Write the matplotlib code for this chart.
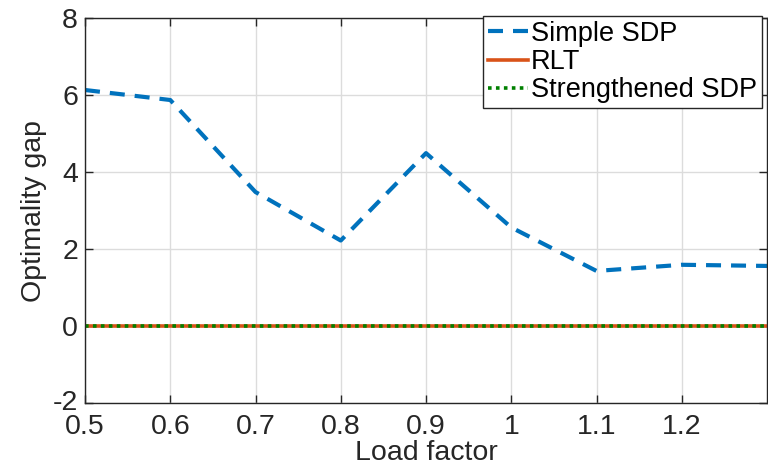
import matplotlib
matplotlib.use("Agg")
import matplotlib.pyplot as plt
from matplotlib.transforms import ScaledTranslation

load_factor = [0.5, 0.6, 0.7, 0.8, 0.9, 1.0, 1.1, 1.2, 1.3]
simple_sdp = [6.13, 5.87, 3.48, 2.22, 4.49, 2.56, 1.43, 1.59, 1.56]
rlt = [0, 0, 0, 0, 0, 0, 0, 0, 0]
strengthened_sdp = [0, 0, 0, 0, 0, 0, 0, 0, 0]
xticks = [0.5, 0.6, 0.7, 0.8, 0.9, 1.0, 1.1, 1.2]
xticklabels = ["0.5", "0.6", "0.7", "0.8", "0.9", "1", "1.1", "1.2"]
yticks = [-2, 0, 2, 4, 6, 8]
yticklabels = ["-2", "0", "2", "4", "6", "8"]

plt.rcParams['font.family'] = ['Liberation Sans', 'DejaVu Sans']

W, H = 768, 469
fig = plt.figure(figsize=(W/100, H/100), dpi=100)
ax = fig.add_axes([85/W, 1-403/H, (767-85)/W, (403-18)/H])

ax.plot(load_factor, simple_sdp, color='#0072BD', linestyle=(0, (3.6, 2.4)), linewidth=3.0, label='Simple SDP')
ax.plot(load_factor, rlt, color='#D95319', linestyle='-', linewidth=2.6, label='RLT')
ax.plot(load_factor, strengthened_sdp, color='#008000', linestyle=(0, (1, 1.2)), linewidth=2.6, label='Strengthened SDP')

ax.set_xlim(0.5, 1.3)
ax.set_ylim(-2, 8)
ax.set_xticks(xticks)
ax.set_xticklabels(xticklabels)
ax.set_yticks(yticks)
ax.set_yticklabels(yticklabels)
ax.grid(True, color='#dcdcdc', linewidth=1.0)
ax.set_axisbelow(True)
for s in ax.spines.values():
    s.set_color('#262626')
    s.set_linewidth(1.0)
ax.tick_params(direction='in', top=True, right=True, length=6, width=1.0,
               colors='#262626', labelsize=20.5)
ax.tick_params(axis='x', pad=8)
ax.tick_params(axis='y', pad=5)
ax.set_xlabel('Load factor', fontsize=20.5, color='#262626', labelpad=0)
ax.set_ylabel('Optimality gap', fontsize=20.5, color='#262626', labelpad=4)

# nudge the lowest y tick label up slightly so it does not collide with "0.5"
lowest = ax.get_yticklabels()[0]
lowest.set_transform(lowest.get_transform() + ScaledTranslation(0, 3/100, fig.dpi_scale_trans))

leg = ax.legend(loc='upper right', bbox_to_anchor=(762/W, 1-16/H), bbox_transform=fig.transFigure,
                fontsize=19.5, frameon=True, fancybox=False, borderaxespad=0,
                handlelength=1.5, handletextpad=0.1, labelspacing=0.08,
                borderpad=0.18, framealpha=1)
leg.get_frame().set_edgecolor('#262626')
leg.get_frame().set_linewidth(1.0)

fig.savefig('out.png', dpi=100)
